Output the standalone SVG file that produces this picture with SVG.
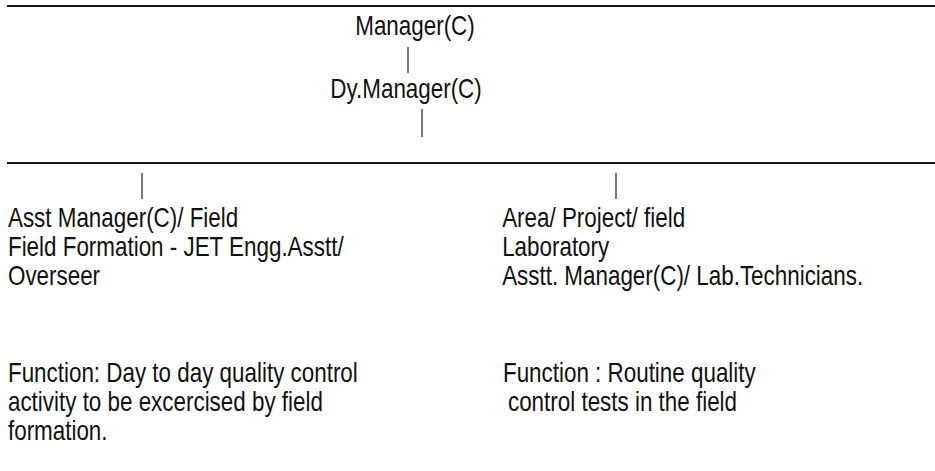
<svg xmlns="http://www.w3.org/2000/svg" width="935" height="471" viewBox="0 0 935 471">
  <style>
    /* Arial-metric sans, squeezed horizontally to a narrow face */
    .t { font-family: "Liberation Sans", Arial, sans-serif; font-size: 27px; fill: #111; }
    .narrow { transform: scale(0.83, 1); }
    .rule { stroke: #111; stroke-width: 1.8; fill: none; }
    .bar { stroke: #222; stroke-width: 1.2; fill: none; }
  </style>
  <rect width="935" height="471" fill="#fff"/>

  <!-- connectors: horizontal rules and vertical ticks -->
  <g id="connectors">
    <line class="rule" x1="7" y1="6" x2="935" y2="6"/>
    <line class="bar" x1="408" y1="47" x2="408" y2="73"/>
    <line class="bar" x1="422" y1="109" x2="422" y2="137"/>
    <line class="rule" x1="7" y1="163" x2="935" y2="163"/>
    <line class="bar" x1="142" y1="173" x2="142" y2="199"/>
    <line class="bar" x1="616" y1="173" x2="616" y2="199"/>
  </g>

  <!-- x values below are in the squeezed (x / 0.83) space -->
  <g id="manager" class="narrow">
    <text class="t" x="428" y="35">Manager(C)</text>
  </g>

  <g id="dy-manager" class="narrow">
    <text class="t" x="398" y="98">Dy.Manager(C)</text>
  </g>

  <g id="field-branch" class="narrow">
    <text class="t" x="9.6" y="227">Asst Manager(C)/ Field</text>
    <text class="t" x="9.6" y="256">Field Formation - JET Engg.Asstt/</text>
    <text class="t" x="9.6" y="285">Overseer</text>
  </g>

  <g id="lab-branch" class="narrow">
    <text class="t" x="605" y="227">Area/ Project/ field</text>
    <text class="t" x="605" y="256">Laboratory</text>
    <text class="t" x="605" y="285">Asstt. Manager(C)/ Lab.Technicians.</text>
  </g>

  <g id="field-function" class="narrow">
    <text class="t" x="9.6" y="382">Function: Day to day quality control</text>
    <text class="t" x="9.6" y="411">activity to be excercised by field</text>
    <text class="t" x="9.6" y="440">formation.</text>
  </g>

  <g id="lab-function" class="narrow">
    <text class="t" x="606" y="382">Function : Routine quality</text>
    <text class="t" x="612" y="411">control tests in the field</text>
  </g>
</svg>
